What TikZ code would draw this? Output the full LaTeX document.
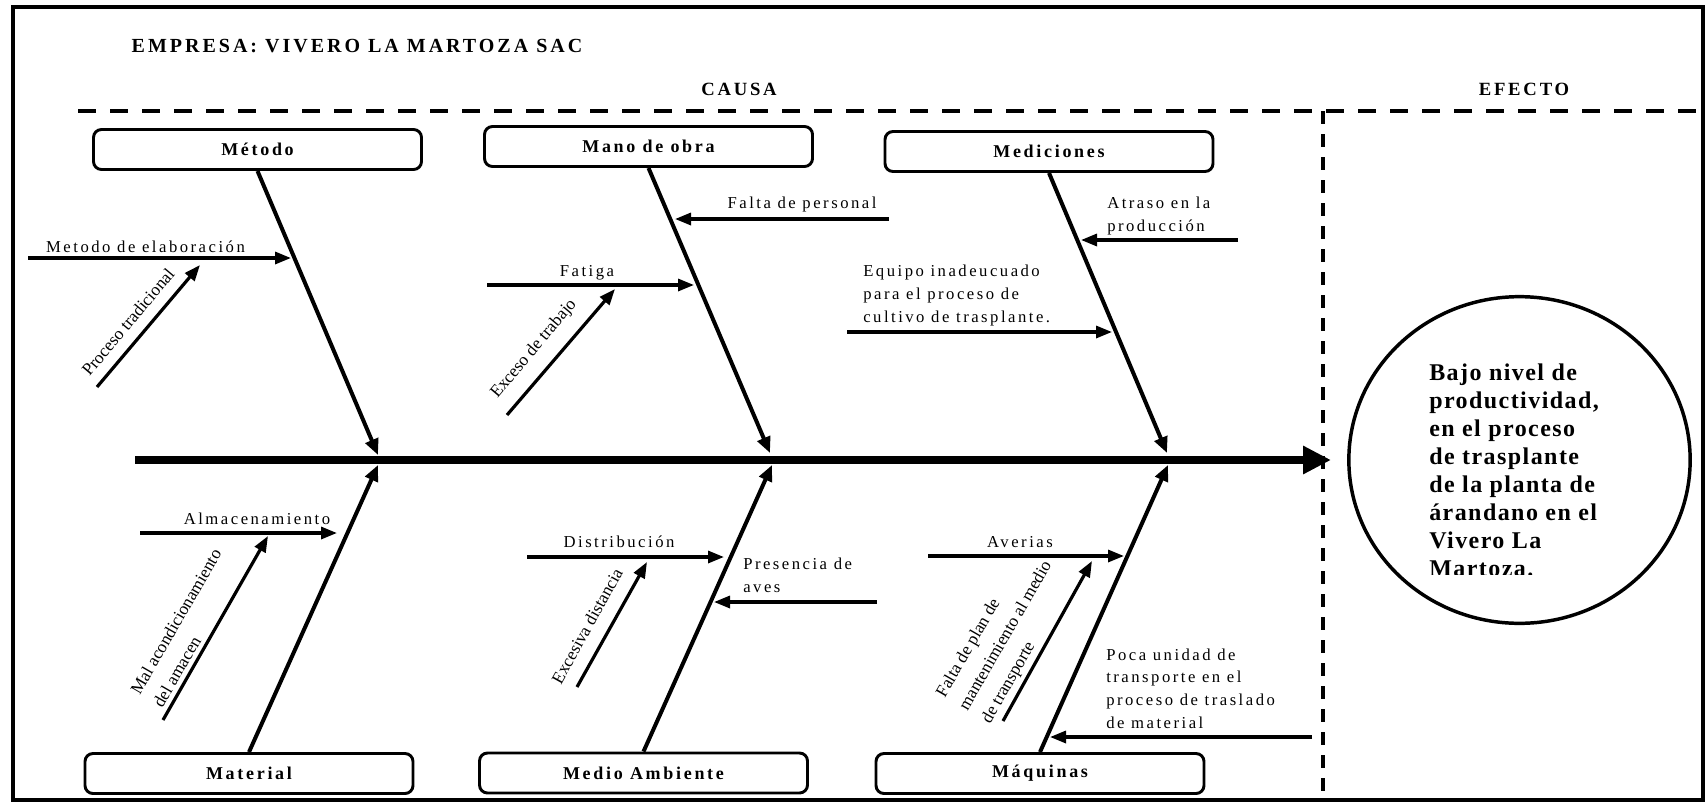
\documentclass[tikz,border=0pt]{standalone}
\usepackage{fontspec}
\setmainfont{Liberation Serif}
\newfontfamily\fLS{Liberation Serif}[LetterSpace=15]
\newfontfamily\fCirc{Liberation Serif}[LetterSpace=6]
\usetikzlibrary{arrows.meta,shapes.geometric}
\begin{document}
\begin{tikzpicture}[x=0.75pt,y=-0.75pt,
  box/.style={draw,line width=2.2pt,rounded corners=6pt,minimum width=246pt,minimum height=30pt,inner sep=0pt,font=\fLS\bfseries\fontsize{13.5}{16}\selectfont},
  bone/.style={line width=3pt,-{Triangle[length=12pt,width=10pt]}},
  subarrow/.style={line width=2.4pt,-{Triangle[length=12pt,width=9pt]}},
  lbl/.style={inner sep=0pt,font=\fLS\fontsize{12.5}{16.9}\selectfont},
  mlbl/.style={lbl,align=left,anchor=base west},
  rlbl/.style={inner sep=0pt,font=\fontsize{13}{19.5}\selectfont,align=left},
  headlbl/.style={inner sep=0pt,font=\fLS\bfseries\fontsize{14}{17}\selectfont},
  dashH/.style={line width=2.4pt,dash pattern=on 13.5pt off 10.5pt},
  dashV/.style={line width=2.6pt,dash pattern=on 9.75pt off 7.5pt},
]
\useasboundingbox (0,0) rectangle (1706,803);
% frame
\draw[line width=2.6pt] (13,7) rectangle (1703,800);
% headings
\node[headlbl,anchor=base,font=\fLS\bfseries\fontsize{15}{18}\selectfont] (title) at (357,52) {EMPRESA: VIVERO LA MARTOZA SAC};
\node[headlbl,anchor=base] (causa) at (739,95) {CAUSA};
\node[headlbl,anchor=base] (efecto) at (1524,95) {EFECTO};
% dashed separators
\coordinate (dl) at (78,111);
\coordinate (dr) at (1706,111);
\coordinate (vt) at (1323,111);
\coordinate (vb) at (1323,796);
\draw[dashH] (dl) -- (dr);
\draw[dashV] (vt) -- (vb);
% category boxes
\node[box] (metodo) at (257.5,149.5) {Método};
\node[box] (mano) at (648.5,146.5) {Mano de obra};
\node[box] (medic) at (1049,151.5) {Mediciones};
\node[box] (mater) at (249,773.5) {Material};
\node[box] (medio) at (643.5,773) {Medio Ambiente};
\node[box] (maqui) at (1040,773.5) {Máquinas};
% spine
\coordinate (sp0) at (135,460);
\coordinate (sp1) at (1331,460);
\draw[line width=6pt,-{Triangle[length=21pt,width=20pt]}] (sp0) -- (sp1);
% bones
\coordinate (b1) at (378,455);
\coordinate (b2) at (770,453);
\coordinate (b3) at (1167,453);
\coordinate (b4) at (378,465);
\coordinate (b5) at (772,465);
\coordinate (b6) at (1168,465);
\draw[bone] (metodo.south) -- (b1);
\draw[bone] (mano.south) -- (b2);
\draw[bone] (medic.south) -- (b3);
\draw[bone] (mater.north) -- (b4);
\draw[bone] (medio.north) -- (b5);
\draw[bone] (maqui.north) -- (b6);
% effect
\node[draw,ellipse,line width=2.6pt,minimum width=256pt,minimum height=245pt,inner sep=0pt] (eff) at (1519.5,460) {};
\begin{scope}
\clip (1380,340) rectangle (1690,574);
\node[anchor=base west,inner sep=0pt,align=left,font=\fCirc\bfseries\fontsize{18}{21}\selectfont] (efftext) at (1429,576) {Bajo nivel de\\productividad,\\en el proceso\\de trasplante\\de la planta de\\árandano en el\\Vivero La\\Martoza.};
\end{scope}
% sub-cause arrows
\coordinate (s1a) at (28,258);   \coordinate (s1b) at (291,258);
\coordinate (s2a) at (97,387);   \coordinate (s2b) at (200,265);
\coordinate (s3a) at (889,219);  \coordinate (s3b) at (675,219);
\coordinate (s4a) at (487,285);  \coordinate (s4b) at (694,285);
\coordinate (s5a) at (507,415);  \coordinate (s5b) at (615,289);
\coordinate (s6a) at (847,332);  \coordinate (s6b) at (1112,332);
\coordinate (s7a) at (1238,240); \coordinate (s7b) at (1081,240);
\coordinate (s8a) at (140,533);  \coordinate (s8b) at (337,533);
\coordinate (s9a) at (163,720);  \coordinate (s9b) at (268,536);
\coordinate (s10a) at (527,557); \coordinate (s10b) at (724,557);
\coordinate (s11a) at (577,687); \coordinate (s11b) at (647,562);
\coordinate (s12a) at (877,602); \coordinate (s12b) at (714,602);
\coordinate (s13a) at (928,556); \coordinate (s13b) at (1124,556);
\coordinate (s14a) at (1003,721);\coordinate (s14b) at (1092,561);
\coordinate (s15a) at (1312,737);\coordinate (s15b) at (1050,737);
\foreach \i in {1,...,15} {\draw[subarrow] (s\i a) -- (s\i b);}
% horizontal labels
\node[lbl,anchor=base] (lmet) at (145.5,252) {Metodo de elaboración};
\node[lbl,anchor=base] (lfp) at (802,208) {Falta de personal};
\node[lbl,anchor=base] (lfat) at (587,276) {Fatiga};
\node[mlbl] (lequ) at (863,322) {Equipo inadeucuado\\para el proceso de\\cultivo de trasplante.};
\node[mlbl] (latr) at (1107,231) {Atraso en la\\producción};
\node[lbl,anchor=base] (lalm) at (257,524) {Almacenamiento};
\node[lbl,anchor=base] (ldis) at (619,547) {Distribución};
\node[mlbl] (lpre) at (743,592) {Presencia de\\aves};
\node[lbl,anchor=base] (lave) at (1020,547) {Averias};
\node[mlbl] (lpoc) at (1106,728) {Poca unidad de\\transporte en el\\proceso de traslado\\de material};
% rotated labels
\node[rlbl,rotate=50] (lproc) at (128,322) {Proceso tradicional};
\node[rlbl,rotate=50] (lexc) at (534,349) {Exceso de trabajo};
\node[rlbl,rotate=60] (lmal) at (187,628) {Mal acondicionamiento\\del amacen};
\node[rlbl,rotate=61] (lexd) at (587,626) {Excesiva distancia};
\node[rlbl,rotate=60] (lfal) at (1006,636) {Falta de plan de\\mantenimiento al medio\\de transporte};
\end{tikzpicture}
\end{document}
